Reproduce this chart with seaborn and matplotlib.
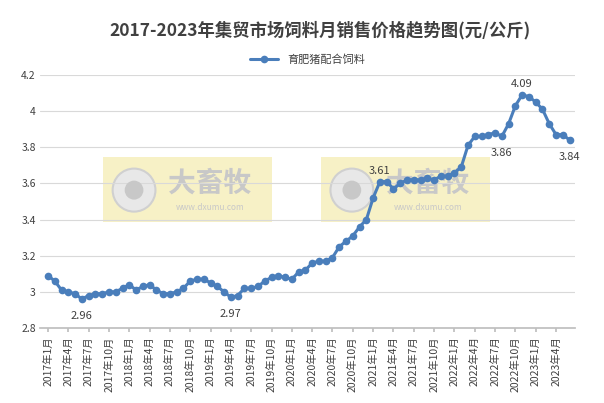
import matplotlib
matplotlib.use("Agg")
import matplotlib.pyplot as plt
import seaborn as sns
import pandas as pd
from matplotlib.patches import Rectangle, Ellipse

sns.set_theme(style="white")
plt.rcParams['font.family'] = ['Noto Sans CJK SC', 'DejaVu Sans']

values = [3.09, 3.06, 3.01, 3.00, 2.99, 2.96, 2.98, 2.99, 2.99, 3.00,
          3.00, 3.02, 3.04, 3.01, 3.03, 3.04, 3.01, 2.99, 2.99, 3.00,
          3.02, 3.06, 3.07, 3.07, 3.05, 3.03, 3.00, 2.97, 2.98, 3.02,
          3.02, 3.03, 3.06, 3.08, 3.09, 3.08, 3.07, 3.11, 3.12, 3.16,
          3.17, 3.17, 3.19, 3.25, 3.28, 3.31, 3.36, 3.40, 3.52, 3.61,
          3.61, 3.57, 3.60, 3.62, 3.62, 3.62, 3.63, 3.62, 3.64, 3.64,
          3.66, 3.69, 3.81, 3.86, 3.86, 3.87, 3.88, 3.86, 3.93, 4.03,
          4.09, 4.08, 4.05, 4.01, 3.93, 3.87, 3.87, 3.84]
months = [f"{2017 + i // 12}年{i % 12 + 1}月" for i in range(len(values))]
series_name = "育肥猪配合饲料"
title = "2017-2023年集贸市场饲料月销售价格趋势图(元/公斤)"
labels = {5: ("2.96", "below"), 27: ("2.97", "below"), 49: ("3.61", "above"),
          67: ("3.86", "below"), 70: ("4.09", "above"), 77: ("3.84", "below")}

df = pd.DataFrame({"x": range(len(values)), "v": values})

fig = plt.figure(figsize=(6.04, 4.03), dpi=100)
ax = fig.add_axes([0.066, 0.186, 0.886, 0.628])
color = "#4a7ebb"

# watermarks
for x0 in (0.118, 0.525):
    ax.add_patch(Rectangle((x0, 0.42), 0.316, 0.256, transform=ax.transAxes,
                           facecolor="#f5eeb8", edgecolor="none", alpha=0.8, zorder=0))
    ax.add_patch(Ellipse((x0 + 0.058, 0.545), 0.08, 0.17, transform=ax.transAxes,
                         facecolor="#e8e8e8", edgecolor="#d0d0d0", lw=1.5, zorder=0.5))
    ax.add_patch(Ellipse((x0 + 0.058, 0.545), 0.035, 0.075, transform=ax.transAxes,
                         facecolor="#c8c8c8", edgecolor="none", zorder=0.6))
    ax.text(x0 + 0.2, 0.57, "大畜牧", transform=ax.transAxes, fontsize=20,
            fontweight="bold", color="#c8c8c8", ha="center", va="center", zorder=0.5)
    ax.text(x0 + 0.2, 0.475, "www.dxumu.com", transform=ax.transAxes, fontsize=6,
            color="#c8c8c8", ha="center", va="center", zorder=0.5)

sns.lineplot(data=df, x="x", y="v", ax=ax, color=color, lw=2.2, marker="o",
             markersize=5.5, markeredgewidth=0, label=series_name, zorder=3)

for i, (t, pos) in labels.items():
    dy = 8 if pos == "above" else -12
    ax.annotate(t, (i, values[i]), xytext=(0, dy), textcoords="offset points",
                ha="center", va="center", fontsize=8, color="#404040")

ax.set_ylim(2.8, 4.2)
ax.set_yticks([2.8, 3.0, 3.2, 3.4, 3.6, 3.8, 4.0, 4.2])
ax.set_yticklabels(["2.8", "3", "3.2", "3.4", "3.6", "3.8", "4", "4.2"])
ax.set_xlim(-1.2, len(values) - 0.2)
ticks = list(range(0, len(values), 3))
ax.set_xticks(ticks)
ax.set_xticklabels([months[i] for i in ticks], rotation=90)
ax.tick_params(axis="both", labelsize=7.5, colors="#404040", length=0, pad=3)
ax.tick_params(axis="x", length=3, color="#bfbfbf", direction="out", bottom=True)
ax.set_xlabel("")
ax.set_ylabel("")
ax.grid(axis="y", color="#d9d9d9", lw=0.8)
for s in ("top", "right", "left"):
    ax.spines[s].set_visible(False)
ax.spines["bottom"].set_color("#bfbfbf")

ax.legend(loc="upper center", bbox_to_anchor=(0.5, 1.12), frameon=False, fontsize=8,
          labelcolor="#404040", handlelength=2.5)
fig.text(0.53, 0.925, title, ha="center", va="center", fontsize=12.5,
         fontweight="bold", color="#404040")
fig.savefig("out.png", dpi=100)
